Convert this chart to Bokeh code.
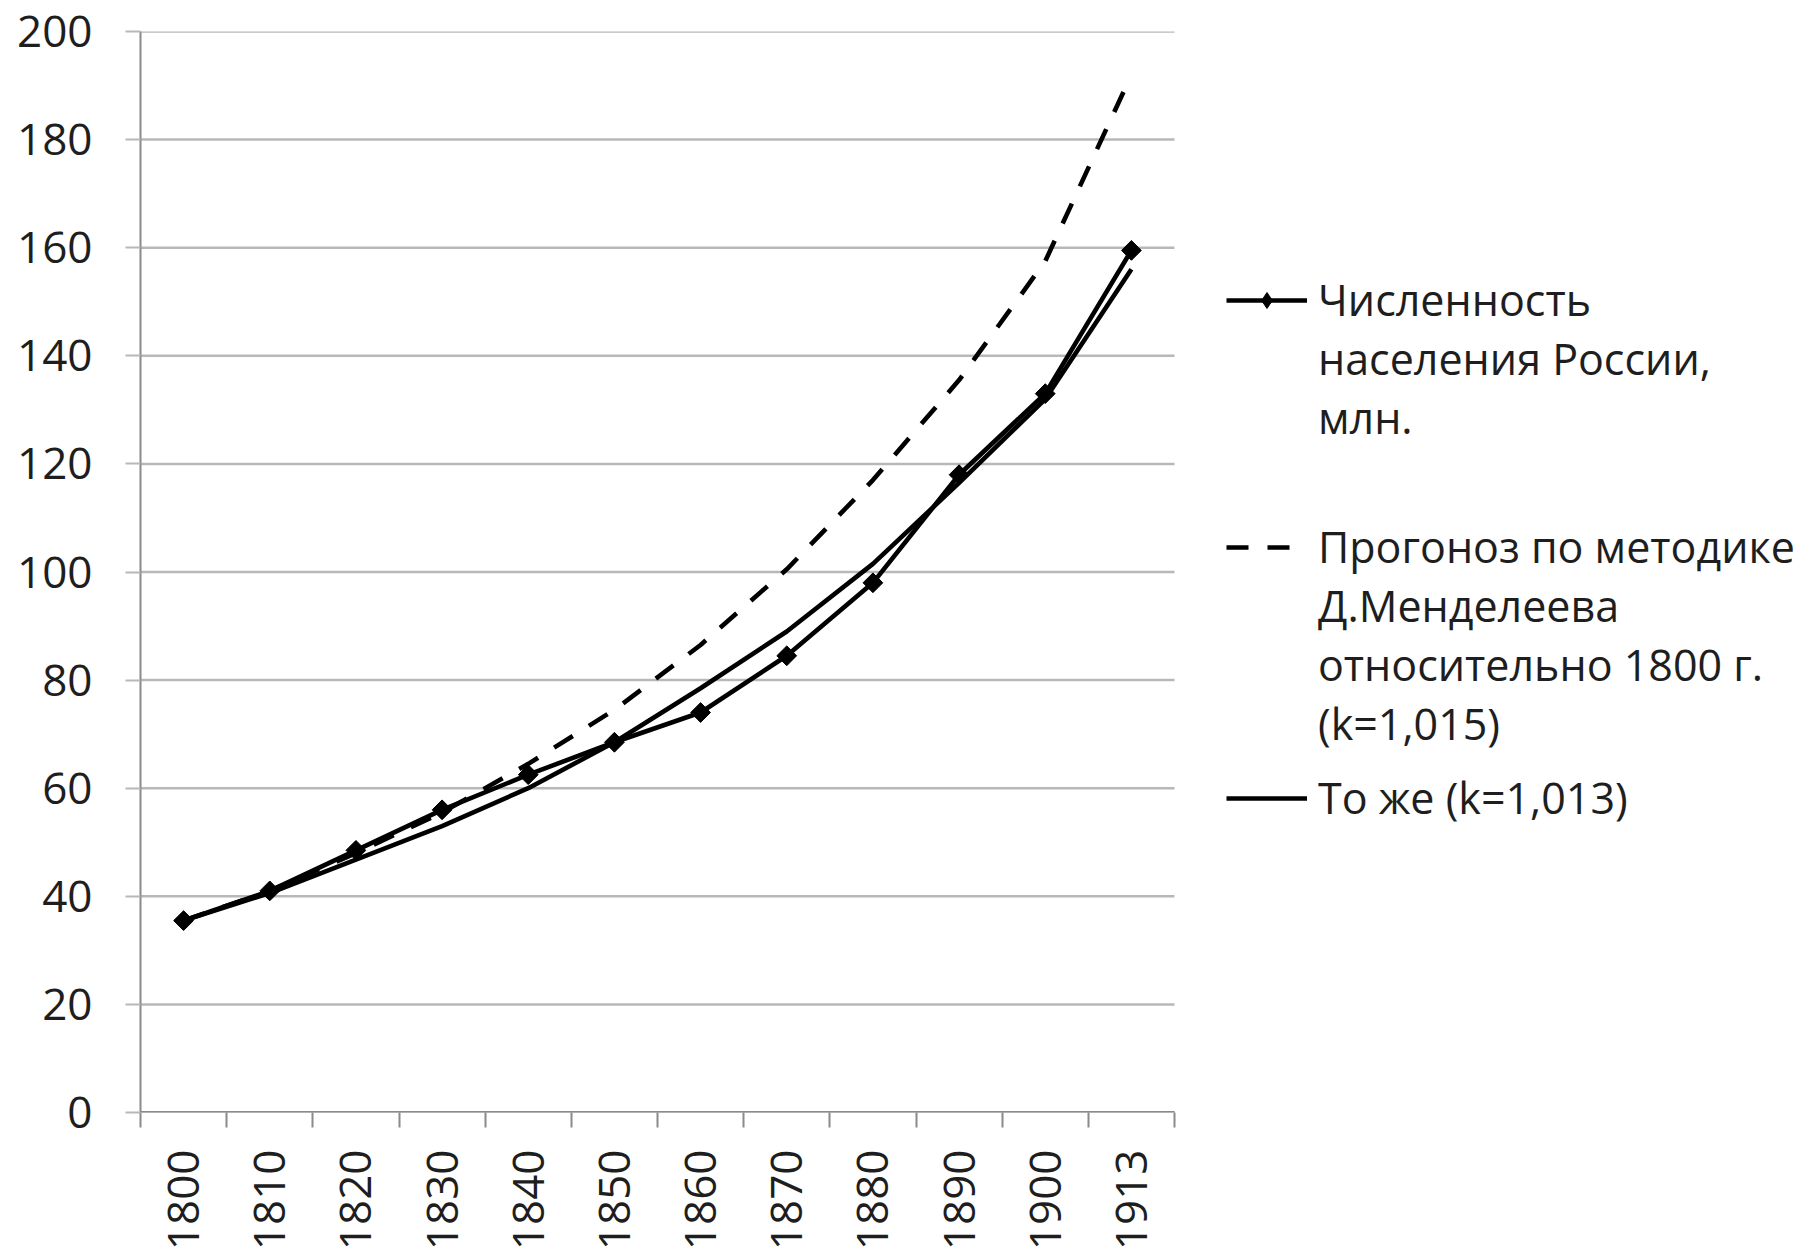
import numpy as np
from bokeh.plotting import figure
from bokeh.models import FixedTicker, Legend, LegendItem, Range1d
from bokeh.embed import file_html
from bokeh.resources import INLINE

# ---- data ----
years = ["1800", "1810", "1820", "1830", "1840", "1850",
         "1860", "1870", "1880", "1890", "1900", "1913"]
population = [35.5, 41.0, 48.5, 56.0, 62.5, 68.5, 74.0, 84.5, 98.0, 118.0, 133.0, 159.5]
forecast_k1015 = [35.5, 41.0, 48.0, 55.5, 64.5, 74.5, 86.5, 100.5, 117.0, 135.5, 157.5, 192.0]
forecast_k1013 = [35.5, 40.6, 46.8, 53.0, 60.0, 68.5, 78.5, 89.0, 101.5, 116.5, 132.0, 156.0]
y_ticks = [0, 20, 40, 60, 80, 100, 120, 140, 160, 180, 200]

label_population = ["Численность", "населения России,", "млн."]
label_k1015 = ["Прогоноз по методике", "Д.Менделеева", "относительно 1800 г.", "(k=1,015)"]
label_k1013 = ["То же (k=1,013)"]

FONT = "Open Sans"
TEXT = "#1e1e1e"
AXIS = "#8a8a8a"
GRID = "#b8b8b8"

W, H = 1814, 1255
LEFT, TOP, BOTTOM, RIGHT = 140, 31, 143, 20
PLOT_PX = 1034  # width in px of the category area (the legend sits to its right)

n = len(years)
xs = np.arange(n) + 0.5
frame_w = W - LEFT - RIGHT
x_end = n * frame_w / PLOT_PX

p = figure(width=W, height=H,
           x_range=Range1d(0, x_end), y_range=Range1d(0, 200),
           output_backend="svg", toolbar_location=None,
           min_border_left=LEFT, min_border_top=TOP,
           min_border_bottom=BOTTOM, min_border_right=RIGHT)
p.outline_line_color = None
p.background_fill_color = "white"
p.border_fill_color = "white"
p.xgrid.grid_line_color = None
p.ygrid.grid_line_color = None

# horizontal gridlines over the category area only
p.segment(x0=[0] * len(y_ticks), y0=y_ticks, x1=[n] * len(y_ticks), y1=y_ticks,
          line_color=GRID, line_width=2.5, level="underlay")
# category axis line
p.segment(x0=[0], y0=[0], x1=[n], y1=[0], line_color=AXIS, line_width=3, level="underlay")

# x axis: labels at category centres, tick marks at category boundaries
xax = p.xaxis[0]
xax.ticker = FixedTicker(ticks=list(xs), minor_ticks=list(range(n + 1)))
xax.major_label_overrides = {float(x): y for x, y in zip(xs, years)}
xax.major_label_orientation = np.pi / 2
xax.major_tick_out = 0
xax.major_tick_in = 0
xax.minor_tick_out = 15
xax.minor_tick_in = 0
xax.minor_tick_line_color = AXIS
xax.minor_tick_line_width = 2
xax.axis_line_color = None
xax.major_label_standoff = 22
xax.major_label_text_font = FONT
xax.major_label_text_font_size = "44px"
xax.major_label_text_color = TEXT

yax = p.yaxis[0]
yax.ticker = FixedTicker(ticks=y_ticks)
yax.major_tick_out = 15
yax.major_tick_in = 0
yax.minor_tick_line_color = None
yax.major_tick_line_color = GRID
yax.major_tick_line_width = 2
yax.axis_line_color = AXIS
yax.axis_line_width = 2
yax.major_label_standoff = 33
yax.major_label_text_font = FONT
yax.major_label_text_font_size = "44px"
yax.major_label_text_color = TEXT

LW = 4.6
r_k1015 = p.line(xs, forecast_k1015, line_color="black", line_width=LW, line_dash="22 19")
r_k1013 = p.line(xs, forecast_k1013, line_color="black", line_width=LW)
r_pop = p.line(xs, population, line_color="black", line_width=LW)
r_pop_m = p.scatter(xs, population, marker="square", angle=np.pi / 4, size=14,
                    fill_color="black", line_color="black")
# inner diamond on the same points (fits inside the rotated squares); used for the legend
# glyph because legend markers ignore the marker angle
r_pop_d = p.scatter(xs, population, marker="diamond", size=18,
                    fill_color="black", line_color="black")


def make_legend(lines, renderers, vy, glyph_height=30):
    items = [LegendItem(label=lines[0], renderers=renderers)]
    items += [LegendItem(label=t, renderers=[]) for t in lines[1:]]
    lg = Legend(items=items, location=(1086, vy))
    lg.label_text_font = FONT
    lg.label_text_font_size = "43px"
    lg.label_text_color = TEXT
    lg.glyph_width = 81
    lg.glyph_height = glyph_height
    lg.label_standoff = 11
    lg.padding = 0
    lg.spacing = 0
    lg.margin = 0
    lg.border_line_color = None
    lg.background_fill_alpha = 0
    p.add_layout(lg)
    return lg


make_legend(label_population, [r_pop, r_pop_d], 665, glyph_height=40)
make_legend(label_k1015, [r_k1015], 359)
make_legend(label_k1013, [r_k1013], 285)

open("out.html", "w").write(file_html(p, INLINE))
